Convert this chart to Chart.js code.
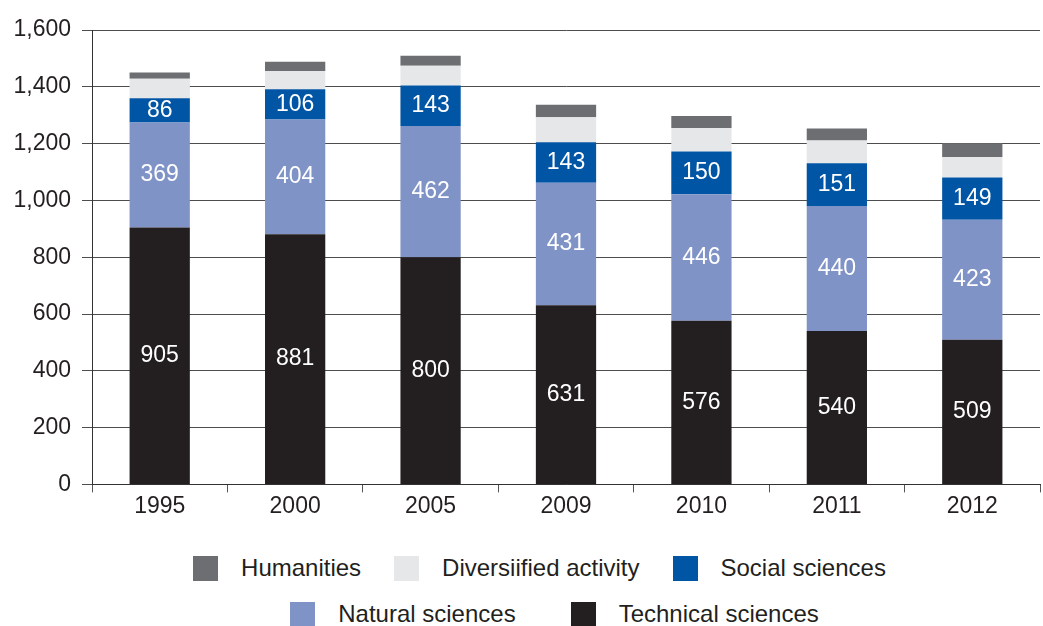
<!DOCTYPE html>
<html>
<head>
<meta charset="utf-8">
<script src="https://cdn.jsdelivr.net/npm/chart.js@4/dist/chart.umd.min.js"></script>
<style>
    body { margin: 0; background: white; font-family: "Liberation Sans", Arial, sans-serif; }
    #wrap { position: relative; width: 1043px; height: 626px; }
    #chartBox { position: absolute; left: 0; top: 0; width: 1043px; height: 540px; }
    #legend { position: absolute; left: 0; top: 540px; width: 1043px; }
    .row { display: flex; justify-content: center; height: 26px; align-items: center; }
    .item { display: flex; align-items: center; font-size: 24px; color: #231f20; }
    .box { width: 25px; height: 25px; margin-right: 23px; }
</style>
</head>
<body>
<div id="wrap">
    <div id="chartBox"><canvas id="scienceBar"></canvas></div>
    <div id="legend"></div>
</div>
<script>
const years = ['1995', '2000', '2005', '2009', '2010', '2011', '2012']
const technical = [905, 881, 800, 631, 576, 540, 509]
const natural = [369, 404, 462, 431, 446, 440, 423]
const social = [86, 106, 143, 143, 150, 151, 149]
const diversified = [68, 65, 69, 88, 83, 80, 72]
const humanities = [22, 32, 35, 44, 42, 42, 48]
const yTicks = [0, 200, 400, 600, 800, 1000, 1200, 1400, 1600]

window.addEventListener("load", (event) => {

    var ctx = document.getElementById('scienceBar')
    var font = { family: '"Liberation Sans", Arial, sans-serif', size: 23 }
    var ink = '#231f20'

    // white numbers in the middle of the labelled segments
    const segmentLabels = {
        id: 'segmentLabels',
        afterDatasetsDraw(chart) {
            const c = chart.ctx
            c.save()
            c.fillStyle = 'white'
            c.font = '23px "Liberation Sans", Arial, sans-serif'
            c.textAlign = 'center'
            c.textBaseline = 'middle'
            chart.data.datasets.forEach((ds, i) => {
                if (!ds.showValues) return
                chart.getDatasetMeta(i).data.forEach((bar, j) => {
                    const p = bar.getProps(['x', 'y', 'base'], true)
                    c.fillText(ds.data[j], p.x, (p.y + p.base) / 2)
                })
            })
            c.restore()
        }
    }

    const datasets = [
        { label: 'Technical sciences', data: technical, backgroundColor: '#231f20', showValues: true, row: 1 },
        { label: 'Natural sciences', data: natural, backgroundColor: '#8093c7', showValues: true, row: 1 },
        { label: 'Social sciences', data: social, backgroundColor: '#0055a5', showValues: true, row: 0 },
        { label: 'Diversiified activity', data: diversified, backgroundColor: '#e6e7e8', row: 0 },
        { label: 'Humanities', data: humanities, backgroundColor: '#6d6e71', row: 0 }
    ]

    new Chart(ctx, {
        type: 'bar',
        data: {
            labels: years,
            datasets: datasets
        },
        plugins: [segmentLabels],
        options: {
            responsive: true,
            maintainAspectRatio: false,
            animation: false,
            barPercentage: 0.445,
            categoryPercentage: 1,
            layout: {
                padding: { top: 30, right: 3, bottom: 20, left: 0 }
            },
            plugins: {
                legend: { display: false },
                tooltip: { enabled: false }
            },
            scales: {
                x: {
                    stacked: true,
                    offset: true,
                    grid: {
                        offset: true,
                        drawOnChartArea: false,
                        tickLength: 8,
                        color: '#555'
                    },
                    border: { color: '#333', width: 1 },
                    ticks: { color: ink, font: font, padding: 0 }
                },
                y: {
                    stacked: true,
                    min: 0,
                    max: 1600,
                    afterBuildTicks: (scale) => {
                        scale.ticks = yTicks.map(v => ({ value: v }))
                    },
                    afterFit: (scale) => {
                        scale.width = 92
                    },
                    grid: {
                        color: '#4d4d4d',
                        tickLength: 10,
                        lineWidth: 1
                    },
                    border: { color: '#333', width: 1 },
                    ticks: {
                        color: ink,
                        font: font,
                        padding: 11,
                        callback: (v) => v.toLocaleString('en-US')
                    }
                }
            }
        }
    })

    // legend in two rows, top of the stack first
    var legend = document.getElementById('legend')
    var rows = [document.createElement('div'), document.createElement('div')]
    rows[0].className = 'row'
    rows[1].className = 'row'
    rows[0].style.marginTop = '15px'
    rows[0].style.gap = '33px'
    rows[0].style.paddingLeft = '36px'
    rows[1].style.marginTop = '20px'
    rows[1].style.gap = '55px'
    rows[1].style.paddingLeft = '66px'
    datasets.slice().reverse().forEach(ds => {
        var item = document.createElement('div')
        item.className = 'item'
        var box = document.createElement('span')
        box.className = 'box'
        box.style.background = ds.backgroundColor
        item.appendChild(box)
        item.appendChild(document.createTextNode(ds.label))
        rows[ds.row].appendChild(item)
    })
    legend.appendChild(rows[0])
    legend.appendChild(rows[1])
});
</script>
</body>
</html>
